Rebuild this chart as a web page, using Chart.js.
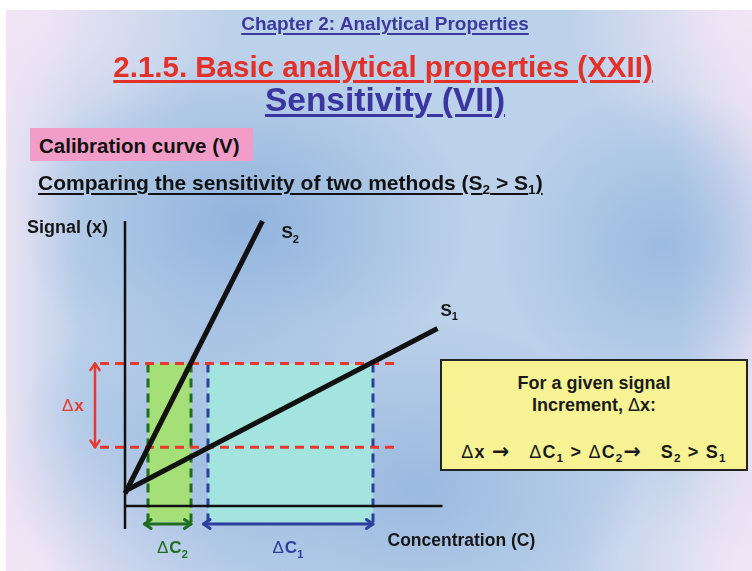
<!DOCTYPE html>
<html>
<head>
<meta charset="utf-8">
<script src="https://cdn.jsdelivr.net/npm/chart.js@4.4.0/dist/chart.umd.min.js"></script>
<style>
  html, body { margin: 0; padding: 0; background: #fff; }
  #slide {
    position: absolute; left: 6px; top: 10px; width: 746px; height: 561px;
    background:
      radial-gradient(ellipse 30% 30% at 32% 38%, rgba(140,176,219,0.9) 0%, rgba(140,176,219,0) 100%),
      radial-gradient(ellipse 22% 28% at 88% 42%, rgba(148,182,222,0.8) 0%, rgba(148,182,222,0) 100%),
      radial-gradient(ellipse 30% 30% at 55% 85%, rgba(146,180,221,0.8) 0%, rgba(146,180,221,0) 100%),
      radial-gradient(ellipse 25% 30% at 25% 80%, rgba(150,184,223,0.7) 0%, rgba(150,184,223,0) 100%),
      linear-gradient(90deg, rgba(240,228,245,0.9) 0%, rgba(240,228,245,0) 10%, rgba(240,228,245,0) 90%, rgba(240,228,245,0.8) 100%),
      radial-gradient(ellipse 30% 30% at 0% 0%, rgba(246,232,247,1) 0%, rgba(246,232,247,0) 100%),
      radial-gradient(ellipse 25% 30% at 100% 0%, rgba(246,232,247,1) 0%, rgba(246,232,247,0) 100%),
      radial-gradient(ellipse 30% 30% at 0% 100%, rgba(246,232,247,1) 0%, rgba(246,232,247,0) 100%),
      radial-gradient(ellipse 25% 25% at 100% 100%, rgba(240,232,247,1) 0%, rgba(240,232,247,0) 100%),
      #bcd1ea;
  }
  #chart { position: absolute; left: 0; top: 0; }
  .t {
    position: absolute; white-space: nowrap; line-height: 1;
    font-family: "Liberation Sans", Arial, sans-serif; font-weight: bold;
  }
  .c { transform: translateX(-50%); }
  .u { text-decoration: underline; text-decoration-thickness: 2px; text-underline-offset: 3px; }
  sub { font-size: 0.65em; vertical-align: -0.3em; line-height: 0; }
  .d { font-weight: normal; }
  .ar { font-family: "DejaVu Sans", sans-serif; font-weight: bold; font-size: 1.15em; }
  #pink { position: absolute; left: 30px; top: 128px; width: 223px; height: 33px; background: #f29cc8; }
  #note {
    position: absolute; left: 440px; top: 359px; width: 308px; height: 112px; box-sizing: border-box;
    background: #f7f395; border: 2px solid #222; font-size: 18px; color: #1a1a1a; text-align: center;
  }
  #note .t { left: 0; width: 100%; }
</style>
</head>
<body>
<div id="slide"></div>
<canvas id="chart" width="752" height="571"></canvas>

<div class="t c u" style="left:385px; top:14px; font-size:19px; color:#3b3b9e;">Chapter 2: Analytical Properties</div>
<div class="t c u" style="left:383px; top:52px; font-size:29.5px; color:#e3312a; text-decoration-thickness:3px;">2.1.5. Basic analytical properties (XXII)</div>
<div class="t c u" style="left:385px; top:83px; font-size:33.5px; color:#3a36a0; text-decoration-thickness:3px;">Sensitivity (VII)</div>
<div id="pink"></div>
<div class="t" style="left:39px; top:136px; font-size:20.5px; color:#111;">Calibration curve (V)</div>
<div class="t u" style="left:38px; top:172px; font-size:21px; color:#111;">Comparing the sensitivity of two methods (S<sub>2</sub> &gt; S<sub>1</sub>)</div>

<div id="note">
  <div class="t" style="top:13px;">For a given signal</div>
  <div class="t" style="top:35px;">Increment, <span class="d">&Delta;</span>x:</div>
  <div class="t" style="top:80px; letter-spacing:1.2px;"><span class="d">&Delta;</span>x <span class="ar">&rarr;</span>&nbsp;&nbsp; <span class="d">&Delta;</span>C<sub>1</sub> &gt; <span class="d">&Delta;</span>C<sub>2</sub><span class="ar">&rarr;</span>&nbsp;&nbsp; S<sub>2</sub> &gt; S<sub>1</sub></div>
</div>

<script>
// calibration lines (concentration, signal)
const s2Conc = [0, 5.5];
const s2Signal = [0.5, 11.4];
const s1Conc = [0, 12.5];
const s1Signal = [0.6, 7.1];

// signal increment Δx and the matching concentration ranges
const signalLevels = [2.35, 5.7];
const dC2 = [0.92, 2.64];
const dC1 = [3.32, 9.92];
const bandFloor = -0.65;
const guideConc = [-1, 11];

// axis extents
const axisConc = [0, 12.7];
const axisSignal = [-0.92, 11.4];

// double arrows
const arrowSignal = -0.72;
const dC2Arrow = [0.78, 2.64];
const dC1Arrow = [3.14, 9.92];
const dxArrowConc = -1.2;

const pts = (xs, ys) => xs.map((x, i) => ({ x, y: ys[i] }));

const solid = (data, color, width) => ({
  data, borderColor: color, borderWidth: width, pointRadius: 0, fill: false
});
const dashed = (data, color) => ({
  data, borderColor: color, borderWidth: 3, borderDash: [9, 6], pointRadius: 0, fill: false
});
const band = (range, color) => ({
  data: pts(range, [signalLevels[1], signalLevels[1]]),
  borderWidth: 0, pointRadius: 0, backgroundColor: color, fill: { value: bandFloor }
});

const RED = '#e63a2e', GREEN = '#1f6e1f', BLUE = '#2d3f9e';

const arrowsAndLabels = {
  id: 'arrowsAndLabels',
  afterDatasetsDraw(chart) {
    const { ctx, scales: { x, y } } = chart;
    const head = 8;

    function arrow(x1, y1, x2, y2, color, w) {
      const a = Math.atan2(y2 - y1, x2 - x1);
      ctx.save();
      ctx.strokeStyle = color; ctx.lineWidth = w; ctx.lineCap = 'round'; ctx.lineJoin = 'round';
      ctx.beginPath(); ctx.moveTo(x1, y1); ctx.lineTo(x2, y2); ctx.stroke();
      [[x2, y2, a], [x1, y1, a + Math.PI]].forEach(([px, py, ang]) => {
        ctx.beginPath();
        ctx.moveTo(px - head * Math.cos(ang - 0.6), py - head * Math.sin(ang - 0.6));
        ctx.lineTo(px, py);
        ctx.lineTo(px - head * Math.cos(ang + 0.6), py - head * Math.sin(ang + 0.6));
        ctx.stroke();
      });
      ctx.restore();
    }

    const ay = y.getPixelForValue(arrowSignal);
    arrow(x.getPixelForValue(dC2Arrow[0]), ay, x.getPixelForValue(dC2Arrow[1]), ay, GREEN, 3);
    arrow(x.getPixelForValue(dC1Arrow[0]), ay, x.getPixelForValue(dC1Arrow[1]), ay, BLUE, 3);
    const ax = x.getPixelForValue(dxArrowConc);
    arrow(ax, y.getPixelForValue(signalLevels[1]), ax, y.getPixelForValue(signalLevels[0]), RED, 2.5);

    // text runs: [string, isSubscript, isRegularWeight]
    function label(parts, px, py, color, size) {
      ctx.save();
      ctx.fillStyle = color; ctx.textBaseline = 'alphabetic';
      let cx = px;
      parts.forEach(([s, sub, thin]) => {
        const fs = sub ? size * 0.65 : size;
        ctx.font = `${thin ? 'normal' : 'bold'} ${fs}px "Liberation Sans", Arial, sans-serif`;
        ctx.fillText(s, cx, sub ? py + size * 0.28 : py);
        cx += ctx.measureText(s).width + (thin ? 1 : 0);
      });
      ctx.restore();
    }

    const y0 = y.getPixelForValue(axisSignal[1]);
    const x0 = x.getPixelForValue(0);
    label([['Signal (x)']], x0 - 98, y0 + 12, '#161616', 18);
    label([['Concentration (C)']], x.getPixelForValue(axisConc[1]) - 55, y.getPixelForValue(0) + 40, '#161616', 17.5);

    const s2End = { px: x.getPixelForValue(s2Conc[1]), py: y.getPixelForValue(s2Signal[1]) };
    label([['S'], ['2', 1]], s2End.px + 19, s2End.py + 17, '#161616', 17);
    const s1End = { px: x.getPixelForValue(s1Conc[1]), py: y.getPixelForValue(s1Signal[1]) };
    label([['S'], ['1', 1]], s1End.px + 3, s1End.py - 13, '#161616', 17);

    const dxMid = y.getPixelForValue((signalLevels[0] + signalLevels[1]) / 2);
    label([['\u0394', 0, 1], ['x']], ax - 33, dxMid + 6, RED, 17);
    label([['\u0394', 0, 1], ['C'], ['2', 1]], x.getPixelForValue(dC2[0]) + 9, ay + 29, GREEN, 17);
    label([['\u0394', 0, 1], ['C'], ['1', 1]], x.getPixelForValue((dC1[0] + dC1[1]) / 2) - 18, ay + 29, BLUE, 17);
  }
};

new Chart(document.getElementById('chart'), {
  type: 'line',
  data: {
    datasets: [
      solid(pts(s2Conc, s2Signal), '#111', 5),
      solid(pts(s1Conc, s1Signal), '#111', 5),
      solid(pts([0, 0], axisSignal), '#111', 2.5),
      solid(pts(axisConc, [0, 0]), '#111', 2.5),
      dashed(pts(guideConc, [signalLevels[1], signalLevels[1]]), RED),
      dashed(pts(guideConc, [signalLevels[0], signalLevels[0]]), RED),
      dashed(pts([dC1[0], dC1[0]], [signalLevels[1], bandFloor]), BLUE),
      dashed(pts([dC1[1], dC1[1]], [signalLevels[1], bandFloor]), BLUE),
      dashed(pts([dC2[0], dC2[0]], [signalLevels[1], bandFloor]), GREEN),
      dashed(pts([dC2[1], dC2[1]], [signalLevels[1], bandFloor]), GREEN),
      band(dC1, '#a3e4de'),
      band(dC2, '#a5df78')
    ]
  },
  options: {
    responsive: false,
    animation: false,
    devicePixelRatio: 1,
    layout: { padding: 0 },
    plugins: { legend: { display: false }, tooltip: { enabled: false } },
    scales: {
      x: { type: 'linear', min: -5, max: 25.08, display: false },
      y: { type: 'linear', min: -2.6, max: 20.24, display: false }
    }
  },
  plugins: [arrowsAndLabels]
});
</script>
</body>
</html>
